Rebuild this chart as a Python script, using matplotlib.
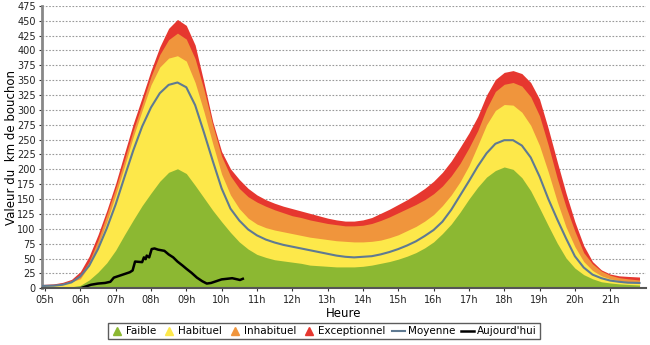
import numpy as np
import matplotlib
matplotlib.use("Agg")
import matplotlib.pyplot as plt
from matplotlib.lines import Line2D

# Time grid (decimal hours)
times = [4.92] + [5.25 + 0.25 * i for i in range(66)] + [21.83]

faible = [1, 1, 2, 2.5, 5, 14, 27, 43, 64, 90, 115, 139, 160, 180, 195, 201, 193, 173, 152, 131,
          112, 94, 78, 66, 57, 52, 48, 46, 44, 42, 39, 38, 37, 36, 36, 36, 37, 39, 42, 45,
          49, 54, 60, 68, 78, 92, 108, 128, 150, 170, 187, 198, 204, 200, 186, 164, 135, 105, 76, 51,
          34, 23, 16, 11, 9, 7.5, 6.5, 5.5]

habituel = [5, 5.5, 7, 11, 16, 38, 72, 112, 157, 205, 255, 299, 342, 372, 387, 391, 382, 346, 297, 243,
            192, 157, 134, 118, 108, 102, 98, 95, 92, 89, 86, 84, 82, 80, 79, 78, 78, 79, 81, 85,
            90, 97, 104, 113, 124, 139, 157, 179, 206, 240, 275, 299, 309, 308, 296, 274, 240, 195, 146, 103,
            70, 45, 30, 21, 16, 13, 11, 9.5]

inhabituel = [5.5, 6, 8, 13, 21, 45, 81, 124, 168, 216, 266, 310, 356, 393, 418, 429, 419, 386, 334, 274,
              222, 189, 168, 154, 145, 138, 132, 127, 122, 119, 115, 112, 109, 107, 105, 105, 106, 109, 114, 120,
              127, 134, 141, 149, 159, 172, 189, 210, 236, 265, 302, 331, 343, 346, 340, 322, 290, 240, 185, 137,
              96, 60, 41, 29, 22, 18, 16, 14]

exceptionnel = [6.5, 7.5, 10, 15, 28, 54, 90, 131, 176, 227, 277, 321, 366, 406, 437, 452, 442, 409, 346, 280,
                230, 201, 183, 168, 157, 149, 143, 138, 134, 130, 126, 122, 118, 115, 113, 113, 115, 119, 126, 133,
                141, 149, 158, 168, 180, 195, 214, 237, 261, 289, 325, 351, 363, 366, 361, 346, 318, 268, 213, 160,
                112, 72, 45, 31, 24, 21, 20, 19]

moyenne = [4, 4.5, 6, 10, 20, 38, 66, 101, 141, 187, 232, 272, 304, 328, 342, 346, 338, 308, 262, 214,
           168, 134, 114, 99, 89, 82, 77, 73, 70, 67, 64, 61, 58, 55, 53, 52, 53, 54, 57, 61,
           66, 72, 79, 88, 98, 112, 132, 156, 180, 205, 227, 243, 249, 249, 240, 220, 188, 150, 116, 84,
           54, 35, 23, 17, 13, 11, 9.5, 9]

today_t = [6.0, 6.15, 6.3, 6.5, 6.7, 6.85, 6.95, 7.1, 7.25, 7.4, 7.48, 7.55, 7.75, 7.8, 7.85, 7.88, 7.95,
           8.02, 8.1, 8.2, 8.38, 8.5, 8.63, 8.75, 8.9, 9.0, 9.15, 9.3, 9.45, 9.58, 9.7, 9.85, 10.0,
           10.15, 10.3, 10.45, 10.52, 10.6]
today_v = [0, 3, 6, 8, 9, 11, 18, 21, 24, 27, 30, 45, 44, 52, 49, 55, 52,
           66, 67, 65, 63, 57, 52, 45, 38, 33, 26, 18, 12, 8, 9, 12, 15,
           16, 17, 15, 14, 16]

hour_ticks = list(range(5, 22))
hour_labels = ["%02dh" % h for h in hour_ticks]

c_green = "#8cb832"
c_yellow = "#fde84a"
c_orange = "#f0953c"
c_red = "#e6372f"
c_moy = "#5f7a92"

fig = plt.figure(figsize=(6.5, 3.45), dpi=100)
ax = fig.add_axes([0.0646, 0.1643, 0.9285, 0.819])

ax.set_xlim(4.915, 22.0)
ax.set_ylim(0, 475)
ax.set_yticks(range(0, 476, 25))
ax.set_xticks(hour_ticks)
ax.set_xticklabels(hour_labels)
ax.yaxis.grid(True, linestyle=(0, (1.5, 1.5)), color="#999999", linewidth=0.8)
ax.set_axisbelow(True)

ax.fill_between(times, 0, exceptionnel, color=c_red, lw=0, zorder=2)
ax.fill_between(times, 0, inhabituel, color=c_orange, lw=0, zorder=3)
ax.fill_between(times, 0, habituel, color=c_yellow, lw=0, zorder=4)
ax.fill_between(times, 0, faible, color=c_green, lw=0, zorder=5)
ax.plot(times, moyenne, color=c_moy, lw=1.5, zorder=6, solid_joinstyle="round")
ax.plot(today_t, today_v, color="black", lw=1.8, zorder=7)

for s in ["top", "right"]:
    ax.spines[s].set_visible(False)
ax.spines["left"].set_color("#888888")
ax.spines["left"].set_linewidth(2)
ax.spines["bottom"].set_color("#555555")
ax.spines["bottom"].set_linewidth(1.5)
ax.spines["bottom"].set_zorder(8)
ax.tick_params(axis="both", labelsize=7, length=2.5, width=0.8, colors="#333333", pad=2)
ax.tick_params(axis="both", labelcolor="#222222")

ax.set_xlabel("Heure", fontsize=8.5, labelpad=2)
ax.set_ylabel("Valeur du  km de bouchon", fontsize=8.5)
ax.yaxis.set_label_coords(-0.040, 0.5)

handles = [
    Line2D([], [], marker="^", color=c_green, ls="none", markersize=6),
    Line2D([], [], marker="^", color=c_yellow, ls="none", markersize=6),
    Line2D([], [], marker="^", color=c_orange, ls="none", markersize=6),
    Line2D([], [], marker="^", color=c_red, ls="none", markersize=6),
    Line2D([], [], color=c_moy, lw=1.5),
    Line2D([], [], color="black", lw=1.8),
]
labels = ["Faible", "Habituel", "Inhabituel", "Exceptionnel", "Moyenne", "Aujourd'hui"]
leg = fig.legend(handles, labels, loc="center", bbox_to_anchor=(0.498, 0.04), ncol=6,
                 fontsize=7.5, frameon=True, fancybox=False, handlelength=1.2,
                 handletextpad=0.3, columnspacing=0.6, borderpad=0.3)
leg.get_frame().set_edgecolor("#333333")
leg.get_frame().set_linewidth(1.0)

fig.savefig("out.png", dpi=100)
